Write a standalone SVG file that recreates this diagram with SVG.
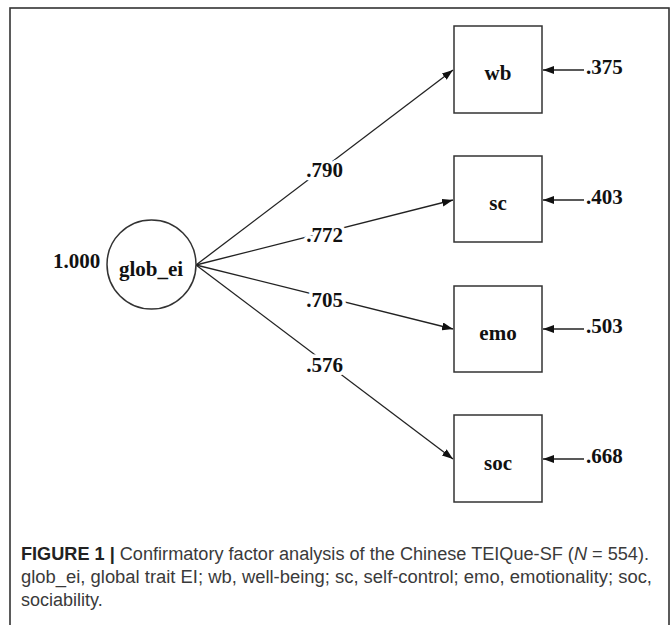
<svg xmlns="http://www.w3.org/2000/svg" width="672" height="625" viewBox="0 0 672 625">
<defs>
<marker id="arr" viewBox="0 0 11 8" refX="11" refY="4" markerWidth="11" markerHeight="8" markerUnits="userSpaceOnUse" orient="auto">
<path d="M0,0 L11,4 L0,8 Z" fill="#111"/>
</marker>
<style>
.frame{fill:none;stroke:#333;stroke-width:1.6}
.box{fill:#fff;stroke:#333;stroke-width:1.5}
.edge{fill:none;stroke:#222;stroke-width:1.3}
.lbl{font-family:"Liberation Serif","Times New Roman",serif;font-size:21px;font-weight:bold;fill:#111}
.node{text-anchor:middle}
.coef{text-anchor:middle;paint-order:stroke;stroke:#fff;stroke-width:7px;stroke-linejoin:round}
.cap{font-family:"Liberation Sans",Arial,sans-serif;font-size:18px;fill:#3a3a3a}
</style>
</defs>
<rect width="672" height="625" fill="#fff"/>
<rect class="frame" x="10" y="8" width="659" height="650"/>

<g id="connectors">
<line class="edge" x1="196" y1="265" x2="453" y2="70" marker-end="url(#arr)"/>
<line class="edge" x1="196" y1="265" x2="453" y2="200" marker-end="url(#arr)"/>
<line class="edge" x1="196" y1="265" x2="453" y2="329" marker-end="url(#arr)"/>
<line class="edge" x1="196" y1="265" x2="453" y2="459" marker-end="url(#arr)"/>
<line class="edge" x1="584" y1="70" x2="543" y2="70" marker-end="url(#arr)"/>
<line class="edge" x1="584" y1="200" x2="543" y2="200" marker-end="url(#arr)"/>
<line class="edge" x1="584" y1="329" x2="543" y2="329" marker-end="url(#arr)"/>
<line class="edge" x1="584" y1="459" x2="543" y2="459" marker-end="url(#arr)"/>
<text class="lbl coef" x="324.5" y="177">.790</text>
<text class="lbl coef" x="324.5" y="242">.772</text>
<text class="lbl coef" x="324.5" y="307">.705</text>
<text class="lbl coef" x="324.5" y="372">.576</text>
</g>

<g id="glob_ei">
<circle cx="151.5" cy="264.5" r="44.5" fill="#fff" stroke="#333" stroke-width="1.5"/>
<text class="lbl node" x="151" y="276">glob_ei</text>
<text class="lbl" x="53" y="268">1.000</text>
</g>

<g id="wb">
<rect class="box" x="454" y="26" width="88" height="87"/>
<text class="lbl node" x="498" y="80">wb</text>
<text class="lbl" x="586" y="74">.375</text>
</g>

<g id="sc">
<rect class="box" x="454" y="156" width="88" height="86"/>
<text class="lbl node" x="498" y="210">sc</text>
<text class="lbl" x="586" y="204">.403</text>
</g>

<g id="emo">
<rect class="box" x="454" y="286" width="88" height="86"/>
<text class="lbl node" x="498" y="340">emo</text>
<text class="lbl" x="586" y="333">.503</text>
</g>

<g id="soc">
<rect class="box" x="454" y="415" width="88" height="87"/>
<text class="lbl node" x="498" y="470">soc</text>
<text class="lbl" x="586" y="463">.668</text>
</g>

<g id="caption">
<text class="cap" x="21" y="560" textLength="628" lengthAdjust="spacingAndGlyphs"><tspan font-weight="bold" fill="#222">FIGURE 1 |</tspan> Confirmatory factor analysis of the Chinese TEIQue-SF (<tspan font-style="italic">N</tspan> = 554).</text>
<text class="cap" x="21" y="583" textLength="631" lengthAdjust="spacingAndGlyphs">glob_ei, global trait EI; wb, well-being; sc, self-control; emo, emotionality; soc,</text>
<text class="cap" x="21" y="606">sociability.</text>
</g>
</svg>
